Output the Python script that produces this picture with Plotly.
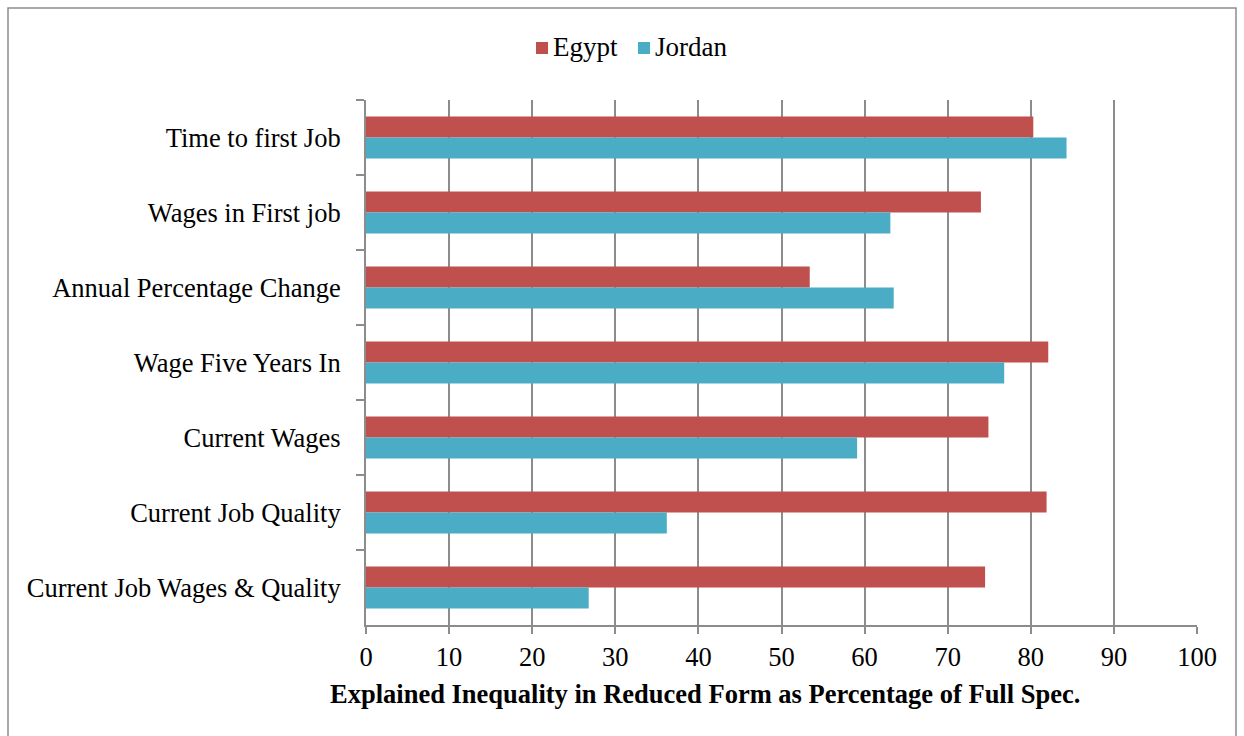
import plotly.graph_objects as go

categories = [
    "Time to first Job",
    "Wages in First job",
    "Annual Percentage Change",
    "Wage Five Years In",
    "Current Wages",
    "Current Job Quality",
    "Current Job Wages & Quality",
]
egypt = [80.3, 74.0, 53.4, 82.1, 74.9, 81.9, 74.5]
jordan = [84.3, 63.1, 63.5, 76.8, 59.1, 36.2, 26.8]
x_ticks = [0, 10, 20, 30, 40, 50, 60, 70, 80, 90, 100]
series_names = ["Egypt", "Jordan"]
series_colors = ["#C0504D", "#4BACC6"]

FONT = "Liberation Serif, Times New Roman, serif"
AXIS_GREY = "#8c8c8c"
FS = 26.5

# plot area in pixels (for placing paper-referenced legend items)
L, R, T, B = 366, 47, 100, 111
W, H = 1244, 736
PW, PH = W - L - R, H - T - B


def px_x(x):
    return (x - L) / PW


def px_y(y):
    return (H - B - y) / PH


fig = go.Figure()
for name, vals, col in zip(series_names, [egypt, jordan], series_colors):
    fig.add_trace(go.Bar(y=categories, x=vals, orientation="h", name=name,
                         marker=dict(color=col, line=dict(width=0))))

# legend: small square swatch followed by the series name
legend_x = [536, 638]
shapes = []
annotations = []
for name, col, x0 in zip(series_names, series_colors, legend_x):
    shapes.append(dict(type="rect", xref="paper", yref="paper",
                       x0=px_x(x0), x1=px_x(x0 + 12), y0=px_y(54), y1=px_y(42),
                       fillcolor=col, line=dict(width=0)))
    annotations.append(dict(text=name, xref="paper", yref="paper",
                            x=px_x(x0 + 15), y=px_y(47), xanchor="left", yanchor="middle",
                            showarrow=False, font=dict(family=FONT, size=27)))

shapes.append(dict(type="rect", xref="paper", yref="paper",
                   x0=px_x(8), x1=px_x(1236), y0=-0.5, y1=px_y(8),
                   line=dict(color=AXIS_GREY, width=1.5), fillcolor="rgba(0,0,0,0)"))
annotations.append(dict(text="<b>Explained Inequality in Reduced Form as Percentage of Full Spec.</b>",
                        xref="paper", yref="paper", x=px_x(705), y=px_y(694),
                        xanchor="center", yanchor="middle", showarrow=False,
                        font=dict(family=FONT, size=FS)))

fig.update_layout(
    width=W, height=H,
    margin=dict(l=L, r=R, t=T, b=B),
    paper_bgcolor="white", plot_bgcolor="white",
    font=dict(family=FONT, size=FS, color="black"),
    barmode="group", bargap=0.44, bargroupgap=0,
    showlegend=False,
    xaxis=dict(range=[0, 100], tickvals=x_ticks, showgrid=True, gridcolor=AXIS_GREY,
               gridwidth=2, showline=True, linecolor=AXIS_GREY, linewidth=2,
               ticks="outside", ticklen=7, tickwidth=2, tickcolor=AXIS_GREY,
               zeroline=False, tickfont=dict(family=FONT, size=FS)),
    yaxis=dict(type="category", autorange="reversed", showline=True, linecolor=AXIS_GREY,
               linewidth=2, ticks="outside", ticklen=8, tickwidth=2, tickcolor=AXIS_GREY,
               tickson="boundaries", showgrid=False, ticklabelstandoff=18,
               tickfont=dict(family=FONT, size=FS)),
    shapes=shapes,
    annotations=annotations,
)

fig.write_html("out.html")
